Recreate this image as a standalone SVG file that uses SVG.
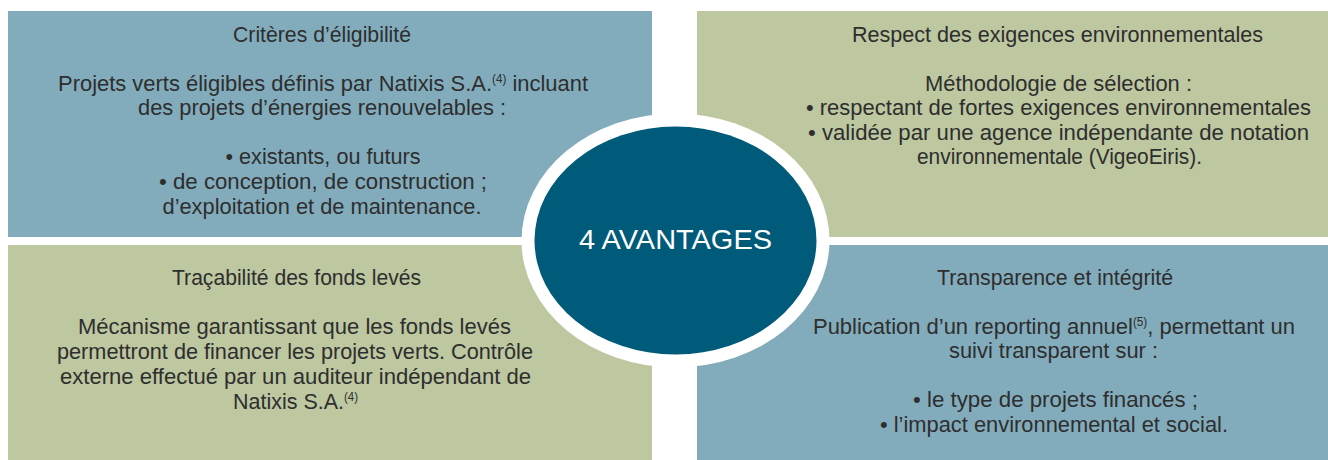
<svg xmlns="http://www.w3.org/2000/svg" width="1328" height="460" viewBox="0 0 1328 460">
<style>
.blue{fill:#82ACBC}
.green{fill:#BDC7A0}
text{font-family:"Liberation Sans",Arial,sans-serif;fill:#2e2e2e;text-anchor:middle}
.t{font-size:21.5px}
.b{font-size:22.5px}
.sup{font-size:12px}
.center{fill:#ffffff;font-size:28.5px}
</style>
<rect width="1328" height="460" fill="#ffffff"/>
<g id="node-criteres">
<rect class="blue" x="8" y="11" width="644" height="226"/>
<text class="t" x="322" y="42" textLength="178" lengthAdjust="spacingAndGlyphs">Critères d’éligibilité</text>
<text class="b" x="323" y="91" textLength="530" lengthAdjust="spacingAndGlyphs">Projets verts éligibles définis par Natixis S.A.<tspan class="sup" dy="-8">(4)</tspan><tspan dy="8"> incluant</tspan></text>
<text class="b" x="322" y="115" textLength="368" lengthAdjust="spacingAndGlyphs">des projets d’énergies renouvelables :</text>
<text class="b" x="323" y="164" textLength="195" lengthAdjust="spacingAndGlyphs">• existants, ou futurs</text>
<text class="b" x="323" y="189" textLength="328" lengthAdjust="spacingAndGlyphs">• de conception, de construction ;</text>
<text class="b" x="322" y="214" textLength="319" lengthAdjust="spacingAndGlyphs">d’exploitation et de maintenance.</text>
</g>
<g id="node-respect">
<rect class="green" x="697" y="11" width="631" height="226"/>
<text class="t" x="1057.5" y="42" textLength="411" lengthAdjust="spacingAndGlyphs">Respect des exigences environnementales</text>
<text class="b" x="1058.5" y="91" textLength="267" lengthAdjust="spacingAndGlyphs">Méthodologie de sélection :</text>
<text class="b" x="1058.5" y="115" textLength="505" lengthAdjust="spacingAndGlyphs">• respectant de fortes exigences environnementales</text>
<text class="b" x="1058.5" y="140" textLength="501" lengthAdjust="spacingAndGlyphs">• validée par une agence indépendante de notation</text>
<text class="b" x="1059.5" y="164" textLength="285" lengthAdjust="spacingAndGlyphs">environnementale (VigeoEiris).</text>
</g>
<g id="node-tracabilite">
<rect class="green" x="8" y="245" width="644" height="215"/>
<text class="t" x="296.5" y="285" textLength="249" lengthAdjust="spacingAndGlyphs">Traçabilité des fonds levés</text>
<text class="b" x="294.5" y="334" textLength="433" lengthAdjust="spacingAndGlyphs">Mécanisme garantissant que les fonds levés</text>
<text class="b" x="295" y="359" textLength="476" lengthAdjust="spacingAndGlyphs">permettront de financer les projets verts. Contrôle</text>
<text class="b" x="295.5" y="384" textLength="471" lengthAdjust="spacingAndGlyphs">externe effectué par un auditeur indépendant de</text>
<text class="b" x="295.5" y="409" textLength="125" lengthAdjust="spacingAndGlyphs">Natixis S.A.<tspan class="sup" dy="-8">(4)</tspan></text>
</g>
<g id="node-transparence">
<rect class="blue" x="697" y="245" width="631" height="215"/>
<text class="t" x="1055" y="285" textLength="236" lengthAdjust="spacingAndGlyphs">Transparence et intégrité</text>
<text class="b" x="1054" y="334" textLength="482" lengthAdjust="spacingAndGlyphs">Publication d’un reporting annuel<tspan class="sup" dy="-8">(5)</tspan><tspan dy="8">, permettant un</tspan></text>
<text class="b" x="1053.5" y="358" textLength="209" lengthAdjust="spacingAndGlyphs">suivi transparent sur :</text>
<text class="b" x="1055.5" y="407" textLength="285" lengthAdjust="spacingAndGlyphs">• le type de projets financés ;</text>
<text class="b" x="1054" y="432" textLength="348" lengthAdjust="spacingAndGlyphs">• l’impact environnemental et social.</text>
</g>
<g id="connectors"></g>
<g id="node-center">
<ellipse cx="675.5" cy="240.5" rx="154" ry="127" fill="#ffffff"/>
<ellipse cx="675.5" cy="240.5" rx="141" ry="114" fill="#005A79"/>
<text class="center" x="675.5" y="249" textLength="193" lengthAdjust="spacingAndGlyphs">4 AVANTAGES</text>
</g>
</svg>
